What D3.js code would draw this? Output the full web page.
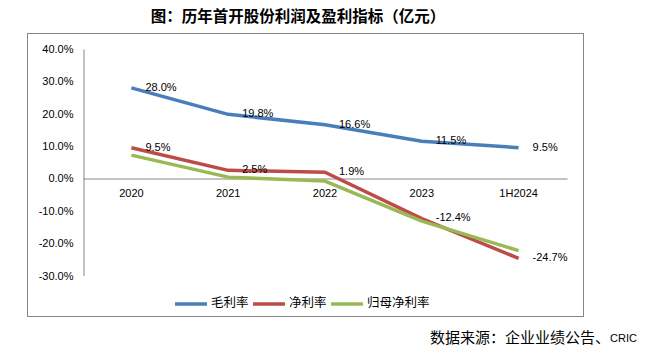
<!DOCTYPE html>
<html><head><meta charset="utf-8">
<script src="https://cdn.jsdelivr.net/npm/d3@7"></script>
<style>
body{margin:0;background:#fff;}
svg{display:block;}
</style></head>
<body>
<svg id="c" width="649" height="357"></svg>
<script>
const categories = ["2020","2021","2022","2023","1H2024"];
const grossMargin = [28.0, 19.8, 16.6, 11.5, 9.5];
const netMargin = [9.5, 2.5, 1.9, -12.4, -24.7];
const parentNetMargin = [7.2, 0.4, -0.8, -13.2, -22.3];
const yTicks = [40, 30, 20, 10, 0, -10, -20, -30];
const seriesNames = ["毛利率","净利率","归母净利率"];
const colors = ["#4A7EBB","#BE4B48","#98B954"];
const title = "图：历年首开股份利润及盈利指标（亿元）";
const sourceMain = "数据来源：企业业绩公告、";
const sourceTail = "CRIC";

const series = [
  {name: seriesNames[0], values: grossMargin, color: colors[0], labels: true},
  {name: seriesNames[1], values: netMargin, color: colors[1], labels: true},
  {name: seriesNames[2], values: parentNetMargin, color: colors[2], labels: false}
];

const svg = d3.select("#c");
const latin = "'Liberation Sans', Arial, sans-serif";
const cjk = "'Noto Sans CJK SC', 'Liberation Sans', sans-serif";

// title
svg.append("text").attr("x", 298).attr("y", 18).attr("text-anchor","middle")
  .attr("dominant-baseline","middle").attr("font-family", cjk).attr("font-weight","bold")
  .attr("font-size", 15.5).attr("fill","#000").text(title);

// frame
svg.append("rect").attr("x", 27.5).attr("y", 33.5).attr("width", 556).attr("height", 283)
  .attr("fill","none").attr("stroke","#868686").attr("stroke-width",1);

const x = d3.scaleBand().domain(categories).range([83, 567]);
const y = d3.scaleLinear().domain([-30, 40]).range([275.5, 49]);

// y axis
const yAxis = d3.axisLeft(y).tickValues(yTicks).tickSize(0).tickPadding(10)
  .tickFormat(d => d.toFixed(1) + "%");
const gy = svg.append("g").attr("transform","translate(83.5,0)").call(yAxis);
gy.select(".domain").attr("stroke","#868686");
gy.selectAll("text").attr("font-family", latin).attr("font-size", 11).attr("fill","#000");

// x axis at zero
const xAxis = d3.axisBottom(x).tickSize(0).tickPadding(11);
const gx = svg.append("g").attr("transform", `translate(0,${Math.round(y(0))+0.5})`).call(xAxis);
gx.select(".domain").attr("stroke","#868686");
gx.selectAll("text").attr("font-family", latin).attr("font-size", 11).attr("fill","#000");

const cx = c => x(c) + x.bandwidth()/2;
const line = d3.line().x((d,i) => cx(categories[i])).y(d => y(d));

series.forEach(s => {
  svg.append("path").datum(s.values).attr("d", line).attr("fill","none")
    .attr("stroke", s.color).attr("stroke-width", 3.5).attr("stroke-linejoin","round");
});
series.forEach(s => {
  if (!s.labels) return;
  svg.append("g").selectAll("text").data(s.values).join("text")
    .attr("x", (d,i) => cx(categories[i]) + 14)
    .attr("y", d => y(d))
    .attr("dominant-baseline","middle")
    .attr("font-family", latin).attr("font-size", 11).attr("fill","#000")
    .text(d => d.toFixed(1) + "%");
});

// legend
const legendX = [175, 253, 331];
const lg = svg.append("g");
series.forEach((s,i) => {
  lg.append("line").attr("x1", legendX[i]).attr("x2", legendX[i] + 32)
    .attr("y1", 304).attr("y2", 304).attr("stroke", s.color).attr("stroke-width", 3.5);
  lg.append("text").attr("x", legendX[i] + 36).attr("y", 304).attr("dominant-baseline","middle")
    .attr("font-family", cjk).attr("font-size", 12.5).attr("fill","#000").text(s.name);
});

// source
const src = svg.append("text").attr("x", 637).attr("y", 339).attr("text-anchor","end")
  .attr("dominant-baseline","middle").attr("fill","#000");
src.append("tspan").attr("font-family", cjk).attr("font-size", 15).text(sourceMain);
src.append("tspan").attr("font-family", latin).attr("font-size", 11).text(sourceTail);
</script>
</body></html>
